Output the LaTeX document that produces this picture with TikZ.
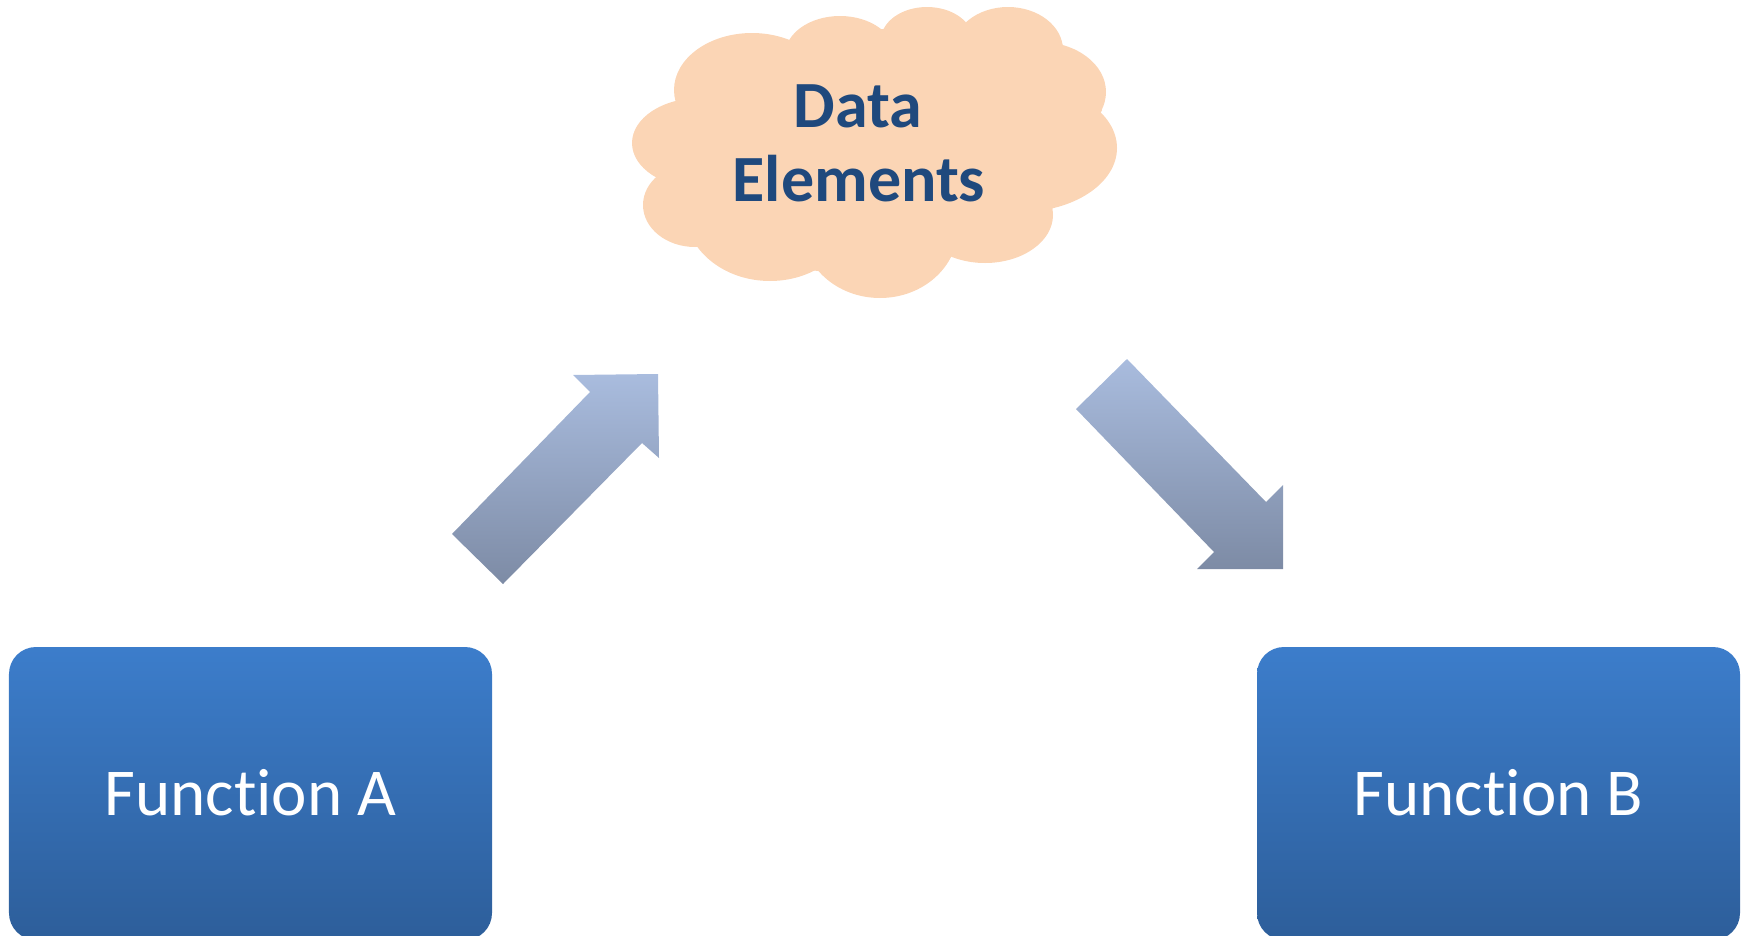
\documentclass[tikz,border=0pt]{standalone}
\usepackage{fontspec}
\setmainfont{Carlito}[Ligatures={NoCommon,NoContextual}]
\definecolor{boxtop}{HTML}{3C7DCB}
\definecolor{boxbot}{HTML}{2D5E9A}
\definecolor{cloudfill}{HTML}{FBD5B5}
\definecolor{cloudtext}{HTML}{1F497D}
\definecolor{arrowtop}{HTML}{A9BCDE}
\definecolor{arrowbot}{HTML}{7D8BA5}
\tikzset{
  funcbox/.style={rounded corners=27bp, top color=boxtop, bottom color=boxbot,
    minimum width=483bp, minimum height=293bp, inner sep=0pt,
    text=white, font=\fontsize{67bp}{80bp}\selectfont},
  cloudlabel/.style={text=cloudtext, inner sep=0pt,
    font=\bfseries\fontsize{66bp}{74bp}\selectfont},
  blockarrow/.style={top color=arrowtop, bottom color=arrowbot, draw=none},
}
\begin{document}
\begin{tikzpicture}[x=1bp, y=-1bp]
\useasboundingbox (0,0) rectangle (1745,935);

% function boxes
\node[funcbox] (fa) at (250.5,793.5) {\raisebox{3bp}{Function A}};
\node[funcbox] (fb) at (1498.5,793.5) {\raisebox{3bp}{Function B}};

% cloud built from overlapping ellipses
\begin{scope}[fill=cloudfill]
  \fill (790,42) -- (883,29) -- (967,23) -- (1062,44) -- (1102,110) -- (1052,209)
        -- (952,255) -- (817,271) -- (697,245) -- (656,178) -- (676,104) -- cycle;
  \fill (752,90) ellipse [x radius=78, y radius=57];
  \fill (840,55) ellipse [x radius=55, y radius=39];
  \fill (927,40) ellipse [x radius=46, y radius=33];
  \fill (1008,50) ellipse [x radius=55, y radius=43];
  \fill (1040,92) ellipse [x radius=66, y radius=50];
  \fill (1020,148) ellipse [x radius=97, y radius=64];
  \fill (985,215) ellipse [x radius=68, y radius=48];
  \fill (880,228) ellipse [x radius=78, y radius=70];
  \fill (770,210) ellipse [x radius=85, y radius=71];
  \fill (695,205) ellipse [x radius=52, y radius=42];
  \fill (700,143) ellipse [x radius=68, y radius=45];
  \fill (875,150) ellipse [x radius=200, y radius=100];
\end{scope}
\coordinate (cloud) at (875,150);
\node[cloudlabel, anchor=base] (data) at (858,127) {Data};
\node[cloudlabel, anchor=base] (elements) at (859,201) {Elements};

% block arrows
\coordinate (upTailL) at (452,534);
\coordinate (upTailR) at (503,584);
\coordinate (upShaftR) at (642,443);
\coordinate (upBarbR) at (659,458);
\coordinate (upTip) at (658,374);
\coordinate (upBarbL) at (573,375);
\coordinate (upShaftL) at (590,392);
\path[blockarrow] (upTailL) -- (upTailR) -- (upShaftR) -- (upBarbR) -- (upTip)
  -- (upBarbL) -- (upShaftL) -- cycle;

\coordinate (dnTailL) at (1076,409);
\coordinate (dnTailR) at (1127,359);
\coordinate (dnShaftR) at (1266,502);
\coordinate (dnBarbR) at (1283,485);
\coordinate (dnTip) at (1283,569);
\coordinate (dnBarbL) at (1197,569);
\coordinate (dnShaftL) at (1214,552);
\path[blockarrow] (dnTailL) -- (dnTailR) -- (dnShaftR) -- (dnBarbR) -- (dnTip)
  -- (dnBarbL) -- (dnShaftL) -- cycle;
\end{tikzpicture}
\end{document}
